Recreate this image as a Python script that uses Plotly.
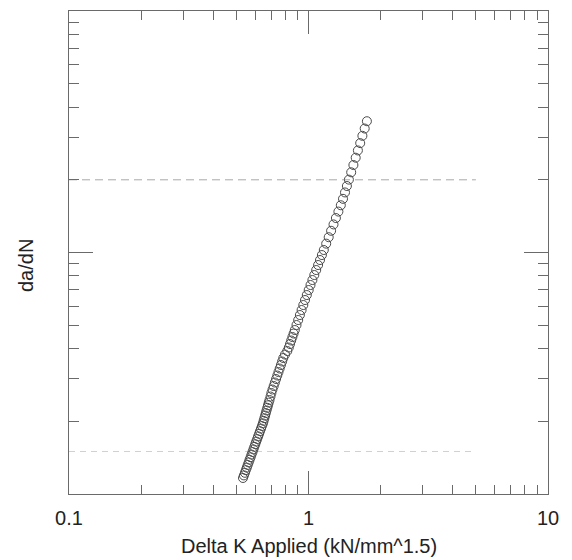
import plotly.graph_objects as go

# Delta K applied (kN/mm^1.5)
delta_k = [
    0.5327, 0.5374, 0.5426, 0.5473, 0.5526, 0.5573, 0.5627, 0.5676, 0.5731, 0.5781,
    0.5837, 0.5888, 0.5939, 0.5996, 0.6048, 0.6107, 0.6160, 0.6219, 0.6273, 0.6334,
    0.6389, 0.6451, 0.6495, 0.6544, 0.6589, 0.6633, 0.6678, 0.6730, 0.6775, 0.6821,
    0.6874,
    0.6940, 0.7000, 0.7074, 0.7156, 0.7239, 0.7323, 0.7408, 0.7494, 0.7581, 0.7669,
    0.7758, 0.7848, 0.7978, 0.8156, 0.8275, 0.8371, 0.8468, 0.8566, 0.8665, 0.8766,
    0.8911, 0.9057, 0.9206, 0.9358, 0.9512, 0.9669, 0.9838, 1.0019, 1.0194, 1.0382,
    1.0573, 1.0768, 1.0967, 1.1169, 1.1375, 1.1585,
    1.1855, 1.2143, 1.2427, 1.2717, 1.3014, 1.3330, 1.3641, 1.3933, 1.4203, 1.4465,
    1.4746,
    1.5076, 1.5398, 1.5742, 1.6079, 1.6439, 1.6790, 1.7166, 1.7533,
]

# da/dN (no tick labels in the reference; decades assumed 1e-6 .. 1e-4)
da_dn = [
    1.165e-6, 1.194e-6, 1.224e-6, 1.255e-6, 1.286e-6, 1.319e-6, 1.352e-6, 1.386e-6, 1.420e-6, 1.456e-6,
    1.492e-6, 1.530e-6, 1.568e-6, 1.608e-6, 1.648e-6, 1.689e-6, 1.732e-6, 1.775e-6, 1.820e-6, 1.865e-6,
    1.912e-6, 1.960e-6, 2.009e-6, 2.060e-6, 2.111e-6, 2.164e-6, 2.218e-6, 2.274e-6, 2.331e-6, 2.390e-6,
    2.450e-6,
    2.533e-6, 2.619e-6, 2.708e-6, 2.800e-6, 2.895e-6, 2.993e-6, 3.094e-6, 3.199e-6, 3.308e-6, 3.420e-6,
    3.536e-6, 3.656e-6, 3.780e-6, 3.908e-6, 4.041e-6, 4.178e-6, 4.320e-6, 4.466e-6, 4.618e-6, 4.775e-6,
    5.008e-6, 5.252e-6, 5.509e-6, 5.778e-6, 6.060e-6, 6.356e-6, 6.666e-6, 6.992e-6, 7.333e-6, 7.691e-6,
    8.067e-6, 8.460e-6, 8.874e-6, 9.307e-6, 9.761e-6, 10.24e-6,
    10.88e-6, 11.57e-6, 12.30e-6, 13.07e-6, 13.89e-6, 14.77e-6, 15.69e-6, 16.68e-6, 17.73e-6, 18.85e-6,
    20.03e-6,
    21.48e-6, 23.03e-6, 24.69e-6, 26.46e-6, 28.37e-6, 30.42e-6, 32.61e-6, 34.96e-6,
]

# Dashed reference levels and their horizontal extent
dash_upper = 2.0e-5
dash_lower = 1.5e-6
dash_x = [0.1, 5.0]

x_tick_vals = [0.1, 1, 10]
x_tick_text = ["0.1", "1", "10"]
x_minor_vals = [0.2, 0.3, 0.4, 0.5, 0.6, 0.7, 0.8, 0.9, 2, 3, 4, 5, 6, 7, 8, 9]
y_tick_vals = [1e-6, 1e-5, 1e-4]
y_minor_vals = [2e-6, 3e-6, 4e-6, 5e-6, 6e-6, 7e-6, 8e-6, 9e-6,
                2e-5, 3e-5, 4e-5, 5e-5, 6e-5, 7e-5, 8e-5, 9e-5]

x_title = "Delta K Applied (kN/mm^1.5)"
y_title = "da/dN"

FONT = "Liberation Sans, Arial, sans-serif"
AX = "#6a6a6a"

fig = go.Figure()
fig.add_trace(go.Scatter(
    x=dash_x, y=[dash_upper, dash_upper], mode="lines",
    line=dict(color="#a8a8a8", width=1, dash="8px,5px"),
    hoverinfo="skip", showlegend=False))
fig.add_trace(go.Scatter(
    x=dash_x, y=[dash_lower, dash_lower], mode="lines",
    line=dict(color="#d0d0d0", width=1, dash="6px,5px"),
    hoverinfo="skip", showlegend=False))
fig.add_trace(go.Scatter(
    x=delta_k, y=da_dn, mode="markers",
    marker=dict(symbol="circle-open", size=9, color="#4a4a4a", line=dict(width=1, color="#4a4a4a")),
    showlegend=False))

fig.update_xaxes(
    type="log", range=[-1, 1],
    showline=True, linecolor=AX, linewidth=1, mirror="ticks",
    ticks="inside", ticklen=23, tickwidth=1, tickcolor=AX,
    tickmode="array", tickvals=x_tick_vals, ticktext=x_tick_text,
    tickfont=dict(family=FONT, size=20, color="#222"),
    ticklabelstandoff=6,
    minor=dict(ticks="inside", ticklen=9, tickwidth=1, tickcolor=AX,
               tickmode="array", tickvals=x_minor_vals, showgrid=False),
    showgrid=False, zeroline=False,
)
fig.update_yaxes(
    type="log", range=[-6, -4],
    showline=True, linecolor=AX, linewidth=1, mirror="ticks",
    ticks="inside", ticklen=24, tickwidth=1, tickcolor=AX,
    tickmode="array", tickvals=y_tick_vals, showticklabels=False,
    minor=dict(ticks="inside", ticklen=10, tickwidth=1, tickcolor=AX,
               tickmode="array", tickvals=y_minor_vals, showgrid=False),
    showgrid=False, zeroline=False,
)

fig.add_annotation(text=x_title, xref="paper", yref="paper", x=0.5, y=-0.107,
                   xanchor="center", yanchor="middle", showarrow=False,
                   font=dict(family=FONT, size=20, color="#222"))
fig.add_annotation(text=y_title, xref="paper", yref="paper", x=-0.0898, y=0.474,
                   xanchor="center", yanchor="middle", textangle=-90, showarrow=False,
                   font=dict(family=FONT, size=20, color="#222"))

fig.update_layout(
    width=572, height=560,
    margin=dict(l=69, r=24, t=11, b=66),
    plot_bgcolor="white", paper_bgcolor="white",
    showlegend=False,
)

fig.write_html("out.html", config={"displayModeBar": False},
               post_script="document.body.style.margin='0';")
